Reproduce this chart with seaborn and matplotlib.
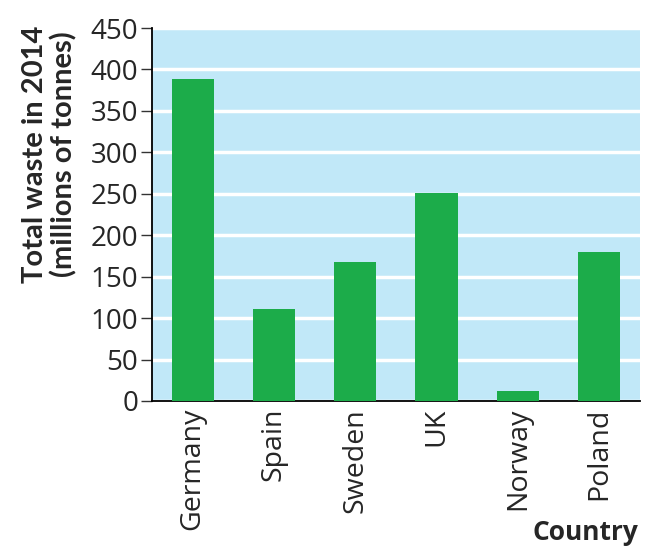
import matplotlib
matplotlib.use("Agg")
import matplotlib.pyplot as plt
import seaborn as sns
import pandas as pd

# data
countries = ["Germany", "Spain", "Sweden", "UK", "Norway", "Poland"]
waste = [388, 111, 168, 251, 12, 180]
yticks = [0, 50, 100, 150, 200, 250, 300, 350, 400, 450]

df = pd.DataFrame({"Country": countries, "Waste": waste})

sns.set_theme(style="white")
plt.rcParams['font.family'] = ['Open Sans', 'DejaVu Sans']

fig = plt.figure(figsize=(6.51, 5.46), dpi=100)
ax = fig.add_axes([0.2335, 0.2656, 0.7495, 0.6831])
ax.set_facecolor("#c1e8f8")

sns.barplot(data=df, x="Country", y="Waste", color="#1cac4a", width=0.52,
            saturation=1, linewidth=0, ax=ax, zorder=3)

ax.set_ylim(0, 450)
ax.set_xlim(-0.5, 5.5)
ax.set_yticks(yticks)
ax.set_yticklabels([str(t) for t in yticks], fontsize=20)
ax.set_xticks(range(len(countries)))
ax.set_xticklabels(countries, rotation=90, fontsize=20.5)

ax.yaxis.grid(True, color="white", linewidth=2.5, zorder=0)
ax.set_axisbelow(True)
ax.tick_params(axis="y", direction="out", length=8, width=1, color="#333333", pad=2, left=True)
ax.tick_params(axis="x", length=0, pad=5)

for s in ["top", "right"]:
    ax.spines[s].set_visible(False)
for s in ["left", "bottom"]:
    ax.spines[s].set_color("black")
    ax.spines[s].set_linewidth(1.3)

ax.set_xlabel("")
ax.set_ylabel("Total waste in 2014\n(millions of tonnes)", fontsize=21,
              fontweight="bold", family=["Lato", "DejaVu Sans"], linespacing=1.1)
ax.yaxis.set_label_coords(-0.152, 0.662)
fig.text(0.98, 0.0, "Country", ha="right", va="bottom", fontsize=19, fontweight="bold")

fig.savefig("out.png", dpi=100)
